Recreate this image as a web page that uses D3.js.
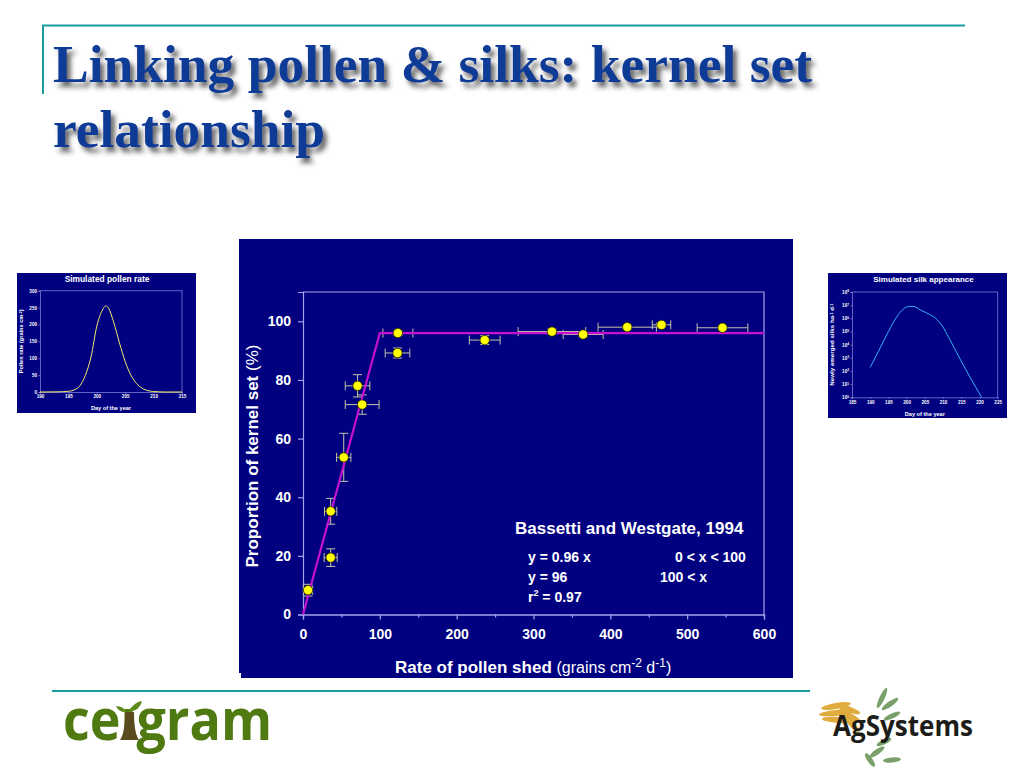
<!DOCTYPE html>
<html><head><meta charset="utf-8">
<script src="https://cdnjs.cloudflare.com/ajax/libs/d3/7.8.5/d3.min.js"></script>
<style>html,body{margin:0;padding:0;background:#fff}svg{display:block}text{font-family:"Liberation Sans",Arial,sans-serif}</style>
</head><body><svg id="c" width="1024" height="768"></svg>
<script>
const titleLines = ["Linking pollen & silks: kernel set","relationship"];
const pollenRate = [6.5,36,36,53,71,77,123.5,123,236.5,324,364.6,422,466.6,546];
const kernelSet  = [8.3,19.4,35.2,53.6,78,71.6,96,89.2,93.6,96.5,95.5,98,98.8,97.8];
const pollenErr  = [6,8.5,8,9.3,16,22,19.5,16,20,44,26,38,12,33];
const kernelErr  = [2,3,4.4,8.2,3.8,3.3,0.8,1.7,1.5,0.8,0.8,0.6,0.8,0.6];
const fitX = [0,100,600];
const fitY = [0,96,96];
const xMajorTicks = [0,100,200,300,400,500,600];
const xMinorTicks = [50,150,250,350,450,550];
const yTicks = [0,20,40,60,80,100];
const pollenDay = [190,193,195,196,197,198,199,200,201,201.6,202,203,204,205,206,207,208,209,210,212,215];
const pollenVal = [0,0.5,2,6,18,50,105,195,243,255,250,205,145,90,50,25,11,4,1.5,0,0];
const pollenDayTicks = [190,195,200,205,210,215];
const pollenValTicks = [0,50,100,150,200,250,300];
const silkDay = [190,192.3,195,197.3,199,200.9,201.8,204,206.3,208,209.8,211.6,214.8,217.5,220.6];
const silkVal = [190,3.2e3,1e5,1.3e6,4.8e6,8e6,8e6,4e6,2e6,1e6,2.6e5,3.3e4,7e2,3e1,1];
const silkDayTicks = [185,190,195,200,205,210,215,220,225];
const silkValTicks = [1,1e1,1e2,1e3,1e4,1e5,1e6,1e7,1e8];

const svg = d3.select("#c");
const NAVY = "#000080", AXIS = "#a4a4ee";

// page furniture
const defs = svg.append("defs");
const f = defs.append("filter").attr("id","sh").attr("x","-5%").attr("y","-20%").attr("width","115%").attr("height","150%");
f.append("feDropShadow").attr("dx",4).attr("dy",5).attr("stdDeviation",2.5).attr("flood-color","#333").attr("flood-opacity",0.75);

const rule = (x1,y1,x2,y2,w=2)=>svg.append("line").attr("x1",x1).attr("y1",y1).attr("x2",x2).attr("y2",y2).attr("stroke","#1b9c9c").attr("stroke-width",w);
rule(42,25.5,965,25.5); rule(43,25,43,94); rule(52,691,810,691);

svg.append("g").attr("filter","url(#sh)").selectAll("text").data(titleLines).join("text")
  .attr("x",53).attr("y",(d,i)=>82+i*65)
  .attr("textLength",(d,i)=>i==0?759:272).attr("lengthAdjust","spacingAndGlyphs")
  .style("font-family","'Liberation Serif',serif").style("font-weight","bold").style("font-size","52px")
  .attr("fill","#0b3a96").text(d=>d);

function smallChart(o){
  svg.append("rect").attr("x",o.px).attr("y",o.py).attr("width",o.pw).attr("height",o.ph).attr("fill",NAVY);
  const x = d3.scaleLinear().domain(o.xd).range([o.l,o.r]);
  const y = o.log ? d3.scaleLog().domain(o.yd).range([o.b,o.t]) : d3.scaleLinear().domain(o.yd).range([o.b,o.t]);
  const st = g=>{g.select(".domain").attr("stroke",AXIS).attr("stroke-width",.6);
    g.selectAll(".tick line").attr("stroke",AXIS).attr("stroke-width",.6);
    g.selectAll("text").attr("fill","#fff").style("font-size","4.6px").style("font-weight","bold");};
  svg.append("path").attr("d",`M${o.l},${o.t}H${o.r}V${o.b}`).attr("fill","none").attr("stroke",AXIS).attr("stroke-width",.6);
  svg.append("g").attr("transform",`translate(0,${o.b})`).call(d3.axisBottom(x).tickValues(o.xt).tickSize(1.5).tickPadding(1.5).tickFormat(d3.format("d"))).call(st);
  const ya = svg.append("g").attr("transform",`translate(${o.l},0)`).call(d3.axisLeft(y).tickValues(o.yt).tickSize(1.5).tickPadding(1.5).tickFormat(o.log?(()=>""):d3.format("d"))).call(st);
  if(o.log){ ya.selectAll(".tick text").each(function(d){
      const t=d3.select(this); t.append("tspan").text("10");
      t.append("tspan").attr("dy",-1.5).style("font-size","3.2px").text(Math.round(Math.log10(d)));});}
  svg.append("path").datum(d3.zip(o.dx,o.dy)).attr("fill","none").attr("stroke",o.color).attr("stroke-width",1)
    .attr("d",d3.line().x(d=>x(d[0])).y(d=>y(d[1])).curve(d3.curveMonotoneX));
  svg.append("text").attr("x",o.cx).attr("y",o.py+8.5).attr("text-anchor","middle").attr("fill","#fff").style("font-size",o.ts+"px").style("font-weight","bold").text(o.title);
  svg.append("text").attr("x",(o.l+o.r)/2).attr("y",o.xly).attr("text-anchor","middle").attr("fill","#fff").style("font-size","5.6px").style("font-weight","bold").text("Day of the year");
  const yl = svg.append("text").attr("transform",`translate(${o.ylx},${(o.t+o.b)/2}) rotate(-90)`).attr("text-anchor","middle").attr("fill","#fff").style("font-size",o.yls+"px").style("font-weight","bold");
  o.yl.forEach(s=>{ if(s[1]) yl.append("tspan").attr("dy",-1.5).style("font-size","3.8px").text(s[0]); else yl.append("tspan").attr("dy",s[2]?1.5:0).text(s[0]); });
}
smallChart({px:17,py:273,pw:179,ph:140,l:40,r:182,t:290.7,b:392,xd:[190,215],yd:[0,300],xt:pollenDayTicks,yt:pollenValTicks,
  dx:pollenDay,dy:pollenVal,color:"#f2e96a",title:"Simulated pollen rate",cx:107,ts:8.4,yls:5.6,xly:410,ylx:23,
  yl:[["Pollen rate (grains cm"],["-2",1],[")",0,1]]});
smallChart({px:828,py:273,pw:179,ph:145,l:852,r:997.7,t:292,b:397.3,log:true,xd:[185,225],yd:[1,1e8],xt:silkDayTicks,yt:silkValTicks,
  dx:silkDay,dy:silkVal,color:"#35b4f0",title:"Simulated silk appearance",cx:923.5,ts:8,yls:6.2,xly:415.5,ylx:834,
  yl:[["Newly emerged silks ha"],["-1",1],[" d",0,1],["-1",1]]});

// main chart
svg.append("rect").attr("x",239).attr("y",239).attr("width",554).attr("height",434).attr("fill",NAVY);
svg.append("rect").attr("x",241).attr("y",673).attr("width",552).attr("height",5).attr("fill",NAVY);
const L=303,R=764,T=292,B=614.5;
const x = d3.scaleLinear().domain([0,600]).range([L,R]);
const y = d3.scaleLinear().domain([0,110]).range([B,T]);
const styleAxis = g=>{g.select(".domain").attr("stroke",AXIS).attr("stroke-width",1.2);
  g.selectAll(".tick line").attr("stroke",AXIS).attr("stroke-width",1.2);
  g.selectAll("text").attr("fill","#fff").style("font-size","14px").style("font-weight","bold");};
svg.append("path").attr("d",`M${L},${T}H${R}V${B}`).attr("fill","none").attr("stroke",AXIS).attr("stroke-width",1.2);
svg.append("g").attr("transform",`translate(0,${B})`).call(d3.axisBottom(x).tickValues(xMinorTicks).tickSize(3).tickFormat("")).call(styleAxis);
svg.append("g").attr("transform",`translate(0,${B})`).call(d3.axisBottom(x).tickValues(xMajorTicks).tickSize(5).tickPadding(10)).call(styleAxis);
svg.append("g").attr("transform",`translate(${L},0)`).call(d3.axisLeft(y).tickValues(yTicks).tickSize(5).tickPadding(7)).call(styleAxis);

const pts = d3.range(pollenRate.length).map(i=>({x:pollenRate[i],y:kernelSet[i],ex:pollenErr[i],ey:kernelErr[i]}));
const eb = svg.append("g").attr("stroke","#c4c4a8").attr("stroke-width",1).attr("fill","none");
const cap=4.5, capY=4.5;
pts.forEach(p=>{
  eb.append("path").attr("d",`M${x(p.x-p.ex)},${y(p.y)}H${x(p.x+p.ex)}M${x(p.x-p.ex)},${y(p.y)-cap}V${y(p.y)+cap}M${x(p.x+p.ex)},${y(p.y)-cap}V${y(p.y)+cap}`);
  eb.append("path").attr("d",`M${x(p.x)},${y(p.y-p.ey)}V${y(p.y+p.ey)}M${x(p.x)-capY},${y(p.y-p.ey)}h${2*capY}M${x(p.x)-capY},${y(p.y+p.ey)}h${2*capY}`);
});
svg.append("path").datum(d3.zip(fitX,fitY)).attr("fill","none").attr("stroke","#c810d0").attr("stroke-width",2.2)
  .attr("d",d3.line().x(d=>x(d[0])).y(d=>y(d[1])));
svg.append("g").selectAll("circle").data(pts).join("circle").attr("cx",d=>x(d.x)).attr("cy",d=>y(d.y)).attr("r",4.7)
  .attr("fill","#ffff00").attr("stroke","#202000").attr("stroke-width",.8);

const T1=(px,py,s,size=14,w="bold")=>svg.append("text").attr("x",px).attr("y",py).attr("fill","#fff").style("font-size",size+"px").style("font-weight",w).text(s);
const yLab = svg.append("text").attr("transform","translate(258,456) rotate(-90)").attr("text-anchor","middle").attr("fill","#fff").style("font-size","17px");
yLab.append("tspan").style("font-weight","bold").text("Proportion of kernel set ");
yLab.append("tspan").text("(%)");
const xLab = svg.append("text").attr("x",395).attr("y",672.5).attr("fill","#fff").style("font-size","16px");
xLab.append("tspan").style("font-weight","bold").style("font-size","17px").text("Rate of pollen shed ");
xLab.append("tspan").text("(grains cm");
xLab.append("tspan").attr("dy",-6).style("font-size","12px").text("-2");
xLab.append("tspan").attr("dy",6).text(" d");
xLab.append("tspan").attr("dy",-6).style("font-size","12px").text("-1");
xLab.append("tspan").attr("dy",6).text(")");
T1(515,533.5,"Bassetti and Westgate, 1994",17);
T1(528,562,"y = 0.96 x"); T1(675,562,"0 < x < 100");
T1(528,582,"y = 96"); T1(660,582,"100 < x");
const r2 = T1(528,601.5,"r");
r2.append("tspan").attr("dy",-6).style("font-size","9px").text("2");
r2.append("tspan").attr("dy",6).text(" = 0.97");

// logos
const logoText=(px,py,s,size,fill,len)=>svg.append("text").attr("x",px).attr("y",py).attr("textLength",len).attr("lengthAdjust","spacingAndGlyphs")
  .style("font-family","'Open Sans',sans-serif").style("font-weight","bold").style("font-size",size+"px").attr("fill",fill).text(s);
logoText(63,740,"ceigram",58,"#4f7a12",209);
svg.append("path").attr("d","M120,740Q125,733 125,712L134,712Q134,733 139,740Z").attr("fill","#5a4a20");
svg.append("rect").attr("x",120).attr("y",696).attr("width",20).attr("height",13).attr("fill","#fff");
svg.append("path").attr("d","M128,712Q134,702 142,701Q140,711 128,712Z M127,712Q123,706 116,706Q119,713 127,712Z").attr("fill","#5e8a1c");
// AgSystems sprigs
const wheat = svg.append("g").attr("fill","#e0ac3e");
[[836,706,24,-10],[836,713,28,-5],[838,720,26,4],[848,709,20,20],[850,716,20,30],[852,724,16,50]].forEach(d=>wheat.append("ellipse").attr("cx",d[0]).attr("cy",d[1]).attr("rx",d[2]/2+3).attr("ry",3).attr("transform",`rotate(${d[3]} ${d[0]} ${d[1]})`));
const leaves = svg.append("g").attr("fill","#7aa06a");
[[882,698,-65,11],[890,704,-35,10],[892,716,-25,9],[877,752,-35,9],[892,760,-5,9],[870,760,55,8],[884,742,-25,8]].forEach(d=>leaves.append("ellipse").attr("cx",d[0]).attr("cy",d[1]).attr("rx",d[3]).attr("ry",2.6).attr("transform",`rotate(${d[2]} ${d[0]} ${d[1]})`));
logoText(833,736,"AgSystems",29,"#1c1c18",140);
</script></body></html>
